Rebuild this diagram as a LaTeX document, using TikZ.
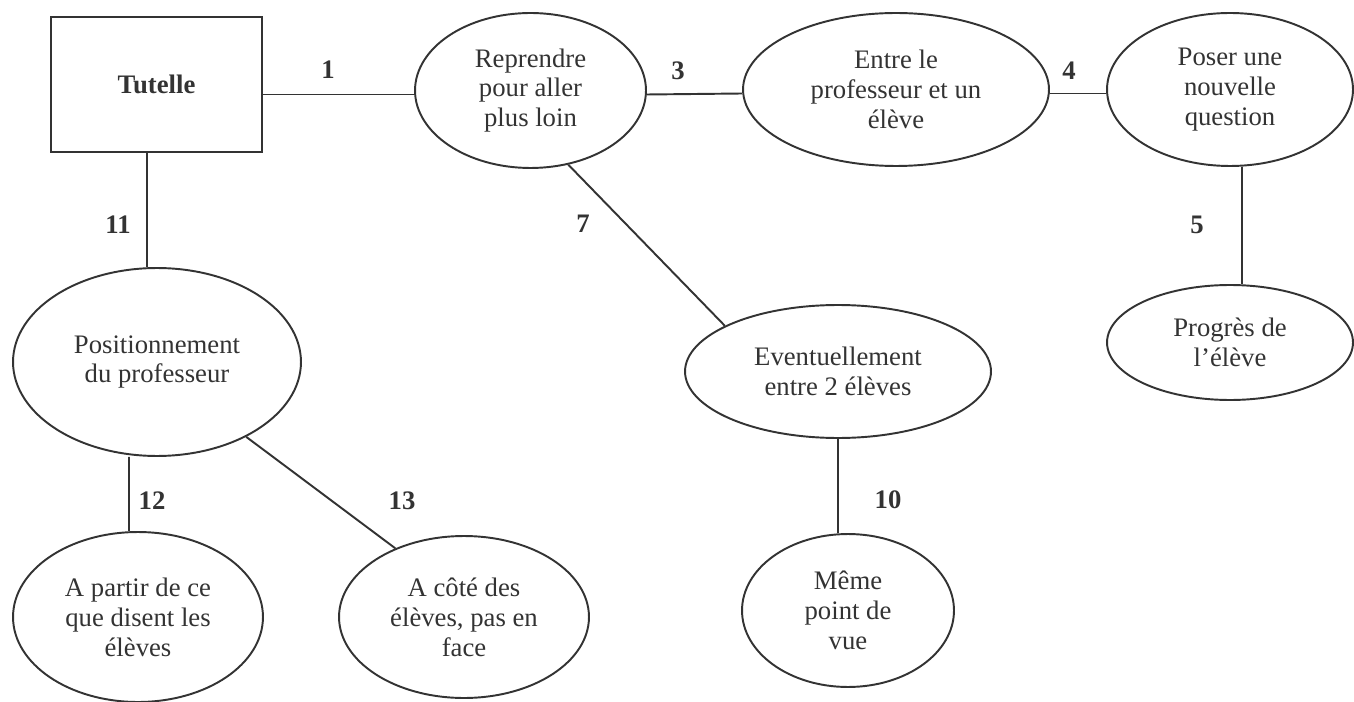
\documentclass[tikz,border=0pt]{standalone}
\usepackage{fontspec}
\setmainfont{Liberation Serif}
\usepackage{tikz}
\usetikzlibrary{shapes.geometric}

\begin{document}
\begin{tikzpicture}[
    x=0.02cm, y=-0.02cm,
    bub/.style={ellipse, draw, inner sep=0pt, align=center},
    tbox/.style={rectangle, draw, inner sep=0pt, align=center, font=\fontsize{15.2}{17}\selectfont\bfseries},
    num/.style={inner sep=0pt, font=\fontsize{15.2}{17}\selectfont\bfseries},
    lnk/.style={line width=1.1pt, black!80},
    every node/.style={text=black!80, draw=black!80, line width=1.1pt},
    font=\fontsize{15.2}{17}\selectfont
]
\useasboundingbox (0,0) rectangle (1354,702);

% top row
\node[tbox, minimum width=4.22cm, minimum height=2.7cm] (tut) at (156.5,84.5) {Tutelle};
\node[bub, minimum width=4.62cm, minimum height=3.1cm] (rep) at (530.5,90.5) {Reprendre\\pour aller\\plus loin};
\node[bub, minimum width=6.12cm, minimum height=3.06cm] (entre) at (896,89.5) {Entre le\\professeur et un\\élève};
\node[bub, minimum width=4.92cm, minimum height=3.06cm] (poser) at (1230,89.5) {Poser une\\nouvelle\\question};

% middle row
\node[bub, minimum width=5.76cm, minimum height=3.76cm] (posi) at (157,362) {Positionnement\\du professeur};
\node[bub, minimum width=6.12cm, minimum height=2.66cm] (eve) at (838,371.5) {Eventuellement\\entre 2 élèves};
\node[bub, minimum width=4.92cm, minimum height=2.3cm] (prog) at (1230,342.5) {Progrès de\\l’élève};

% bottom row
\node[bub, minimum width=5cm, minimum height=3.4cm] (apar) at (138,617) {A partir de ce\\que disent les\\élèves};
\node[bub, minimum width=5cm, minimum height=3.24cm] (acote) at (464,617) {A côté des\\élèves, pas en\\face};
\node[bub, minimum width=4.24cm, minimum height=3.06cm] (meme) at (848,610.5) {Même\\point de\\vue};

% links
\draw[lnk] ([yshift=-0.08cm]tut.east |- rep.west) -- ([yshift=-0.08cm]rep.west);
\draw[lnk] ([yshift=-0.08cm]rep.east) -- ([yshift=-0.08cm]entre.west);
\draw[lnk] ([yshift=-0.08cm]entre.east) -- ([yshift=-0.08cm]poser.west);
\draw[lnk] ([xshift=0.24cm]poser.south) -- ([xshift=0.24cm]prog.north);
\draw[lnk] (rep.-63) -- (eve.158);
\draw[lnk] (eve.south) -- (eve.south |- meme.north);
\draw[lnk] ([xshift=-0.19cm]tut.south) -- ([xshift=-0.2cm]posi.north);
\draw[lnk] ([xshift=-0.56cm]posi.south) -- ([xshift=-0.18cm]apar.north);
\draw[lnk] (posi.-40) -- (acote.135);

% numbers
\node[num, draw=none] (n1) at (328,70) {1};
\node[num, draw=none] (n3) at (678,71) {3};
\node[num, draw=none] (n4) at (1069,71) {4};
\node[num, draw=none] (n5) at (1197,225) {5};
\node[num, draw=none] (n7) at (583,224) {7};
\node[num, draw=none] (n10) at (888,500) {10};
\node[num, draw=none] (n11) at (118,225) {11};
\node[num, draw=none] (n12) at (152,501) {12};
\node[num, draw=none] (n13) at (402,501) {13};
\end{tikzpicture}
\end{document}
